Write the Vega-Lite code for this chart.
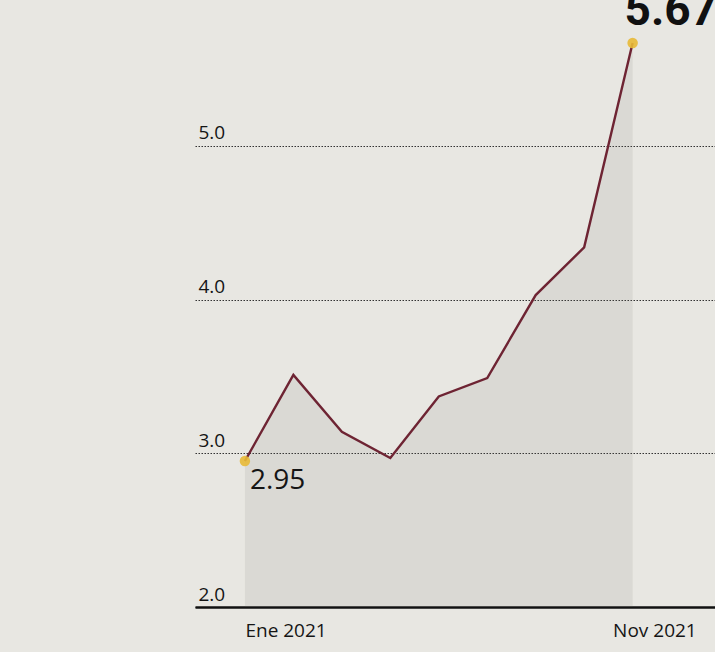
{
  "$schema": "https://vega.github.io/schema/vega-lite/v6.json",
  "width": 520,
  "height": 564,
  "autosize": "none",
  "padding": {"left": 195, "top": 43, "right": 0, "bottom": 45},
  "background": "#e8e7e2",
  "config": {"view": {"stroke": null}, "font": "Open Sans"},
  "data": {
    "values": [
      {"punto": 1, "valor": 2.95},
      {"punto": 2, "valor": 3.51},
      {"punto": 3, "valor": 3.14},
      {"punto": 4, "valor": 2.97},
      {"punto": 5, "valor": 3.37},
      {"punto": 6, "valor": 3.49},
      {"punto": 7, "valor": 4.03},
      {"punto": 8, "valor": 4.34},
      {"punto": 9, "valor": 5.67}
    ]
  },
  "encoding": {
    "x": {
      "field": "punto",
      "type": "quantitative",
      "scale": {"domain": [-0.03, 10.7], "nice": false, "zero": false},
      "axis": {
        "values": [1, 9],
        "title": null,
        "grid": false,
        "ticks": false,
        "tickSize": 0,
        "domainColor": "#111111",
        "domainWidth": 2.5,
        "labelAlign": "left",
        "labelBaseline": "top",
        "labelPadding": 14,
        "labelFontSize": 19,
        "labelColor": "#151515",
        "labelFlush": false,
        "labelOverlap": false,
        "labelExpr": "datum.value < 5 ? 'Ene 2021' : 'Nov 2021'",
        "labelOffset": {"condition": {"test": "datum.value > 5", "value": -20}, "value": 0}
      }
    },
    "y": {
      "field": "valor",
      "type": "quantitative",
      "scale": {"domain": [2, 5.67], "nice": false, "zero": false},
      "axis": {
        "values": [2, 3, 4, 5],
        "format": ".1f",
        "title": null,
        "domain": false,
        "ticks": false,
        "tickSize": 0,
        "labelAlign": "left",
        "labelPadding": -3,
        "labelBaseline": "alphabetic",
        "labelOffset": -7,
        "labelFontSize": 19,
        "labelColor": "#151515",
        "labelFlush": false,
        "labelOverlap": false,
        "grid": true,
        "gridColor": "#333333",
        "gridDash": [1.5, 1.5],
        "gridWidth": 1.1
      }
    }
  },
  "layer": [
    {
      "mark": {"type": "area", "color": "#6f6d68", "opacity": 0.11},
      "encoding": {"y2": {"datum": 2}}
    },
    {
      "mark": {"type": "line", "color": "#6e2433", "strokeWidth": 2.4}
    },
    {
      "transform": [{"filter": "datum.punto == 1 || datum.punto == 9"}],
      "mark": {"type": "circle", "color": "#e8b936", "size": 110, "opacity": 0.9}
    },
    {
      "transform": [{"filter": "datum.punto == 1"}],
      "mark": {"type": "text", "align": "left", "baseline": "top", "dx": 5, "dy": 6, "fontSize": 28, "color": "#151515"},
      "encoding": {"text": {"field": "valor", "type": "quantitative", "format": ".2f"}}
    },
    {
      "transform": [{"filter": "datum.punto == 9"}],
      "mark": {"type": "text", "align": "left", "baseline": "alphabetic", "dx": -8, "dy": -18, "fontSize": 46, "fontWeight": "bold", "font": "Liberation Sans Narrow, Roboto", "color": "#111111"},
      "encoding": {"text": {"field": "valor", "type": "quantitative", "format": ".2f"}}
    }
  ]
}
